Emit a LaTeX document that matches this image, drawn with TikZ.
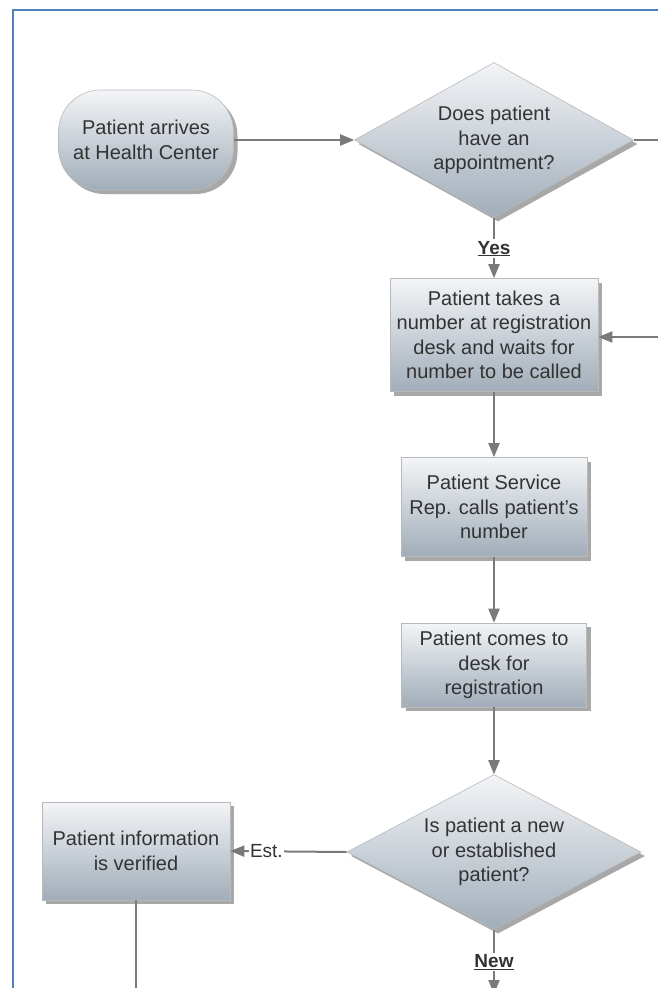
\documentclass[tikz,border=0pt]{standalone}
\usepackage{fontspec}
\setmainfont{Liberation Sans}
\usetikzlibrary{shapes.geometric,shadows,arrows.meta}
\definecolor{txt}{HTML}{333333}
\definecolor{lne}{HTML}{7A7A7A}
\definecolor{framec}{HTML}{4F81BD}
\definecolor{topc}{HTML}{F3F5F7}
\definecolor{botc}{HTML}{A1ADB9}
\begin{document}
\begin{tikzpicture}[x=1pt,y=-1pt,
  base/.style={font=\fontsize{20}{24.5}\selectfont, text=txt, align=center, inner sep=0pt,
    draw=gray!55, line width=0.6pt, top color=topc, bottom color=botc,
    drop shadow={shadow xshift=4pt, shadow yshift=-4pt, fill=black!75, opacity=0.45}},
  proc/.style={base, rectangle},
  term/.style={base, rectangle, rounded corners=42pt},
  dec/.style={base, diamond, aspect=1.9},
  conn/.style={draw=lne, line width=2pt},
  arr/.style={conn, -{Triangle[length=14pt,width=11pt]}},
  lbl/.style={font=\fontsize{19}{24}\selectfont\bfseries, text=black!80, fill=white, inner sep=1.5pt}]
\useasboundingbox (0,0) rectangle (658,988);
\fill[white] (0,0) rectangle (658,988);
% frame
\draw[framec, line width=2pt] (13,990) -- (13,10) -- (660,10);

% nodes
\node[term, minimum width=175pt, minimum height=100pt] (start) at (146,140) {Patient arrives\\at Health Center};
\node[dec, minimum width=279pt, minimum height=155pt] (d1) at (494,140) {Does patient\\have an\\appointment?};
\node[proc, minimum width=208pt, minimum height=113pt] (b2) at (494,335) {Patient takes a\\number at registration\\desk and waits for\\number to be called};
\node[proc, minimum width=186pt, minimum height=99pt] (b3) at (494,507) {Patient Service\\Rep. calls patient's\\number};
\node[proc, minimum width=185pt, minimum height=84pt] (b4) at (494,665) {Patient comes to\\desk for\\registration};
\node[dec, minimum width=294pt, minimum height=155pt] (d2) at (494,852) {Is patient a new\\or established\\patient?};
\node[proc, minimum width=188pt, minimum height=98pt] (b5) at (136,851) {Patient information\\is verified};

\coordinate (c1) at (662,140);
\coordinate (c2) at (662,337);
\coordinate (c3) at (494,994);
\coordinate (c4) at (136,992);

% connectors
\draw[arr] (start.east) -- (d1.west);
\draw[conn] (d1.east) -- (c1);
\draw[arr] (d1.south) -- node[lbl, pos=0.51] (yes) {\underline{Yes}} (b2.north);
\draw[arr] (c2) -- (b2.east |- c2);
\draw[arr] (b2.south) -- (b3.north);
\draw[arr] (b3.south) -- (b4.north);
\draw[arr] (b4.south) -- (d2.north);
\draw[arr] (d2.west) -- node[lbl, font=\fontsize{19}{24}\selectfont, pos=0.69] (est) {Est.} (b5.east);
\draw[arr] (d2.south) -- node[lbl, pos=0.5] (new) {\underline{New}} (c3);
\draw[conn] (b5.south) -- (c4);
\end{tikzpicture}
\end{document}
